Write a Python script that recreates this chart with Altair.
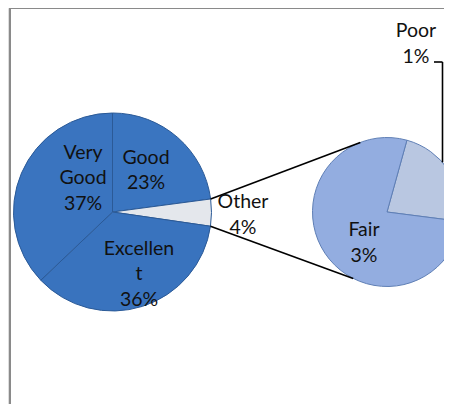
import math
import altair as alt
import pandas as pd

# ---- data ----
main_categories = ["Good", "Other", "Excellent", "Very Good"]
main_values = [22.9, 4.4, 35.6, 37.1]
sub_categories = ["Poor", "Fair"]
sub_values = [1.0, 3.4]

# ---- layout (chart pixel coordinates) ----
W, H = 436, 396
MAIN_C = (104.5, 204.0)
MAIN_R = 99
SUB_C = (379.0, 204.0)
SUB_R = 74.5
SUB_START_DEG = 15.5
FONT = "Lato"
FS = 19.5
LH = 25.5

main_colors = {"Good": "#3a75c0", "Other": "#e4e7ec", "Excellent": "#3973be", "Very Good": "#3a74bf"}
sub_colors = {"Poor": "#b9c7e1", "Fair": "#93ade0"}

main_df = pd.DataFrame({"cat": main_categories, "val": main_values, "ord": range(len(main_categories))})
sub_df = pd.DataFrame({"cat": sub_categories, "val": sub_values, "ord": range(len(sub_categories))})

tot_main = sum(main_values)
tot_sub = sum(sub_values)


def pt(c, r, deg):
    a = math.radians(deg)
    return c[0] + r * math.sin(a), c[1] - r * math.cos(a)


# angles of the "Other" slice in the main pie
i_other = main_categories.index("Other")
other_start = sum(main_values[:i_other]) / tot_main * 360
other_end = sum(main_values[: i_other + 1]) / tot_main * 360
p1 = pt(MAIN_C, MAIN_R, other_start)
p2 = pt(MAIN_C, MAIN_R, other_end)
q1 = pt(SUB_C, SUB_R, 339)
q2 = pt(SUB_C, SUB_R, 207)

# leader for "Poor": vertical line near the right edge meeting the pie's rim
lx = W - 1.5
ly = SUB_C[1] - math.sqrt(max(SUB_R ** 2 - (lx - SUB_C[0]) ** 2, 0))

lines_df = pd.DataFrame(
    [
        {"x": p1[0], "y": p1[1], "x2": q1[0], "y2": q1[1]},
        {"x": p2[0], "y": p2[1], "x2": q2[0], "y2": q2[1]},
        {"x": 426, "y": 54, "x2": lx, "y2": 54},
        {"x": lx, "y": 54, "x2": lx, "y2": ly},
    ]
)


def pct(v, t):
    return f"{round(v / t * 100)}%"


label_text = {
    "Very Good": ["Very", "Good", pct(main_values[3], tot_main)],
    "Good": ["Good", pct(main_values[0], tot_main)],
    "Other": ["Other", pct(main_values[1], tot_main)],
    "Excellent": ["Excellen", "t", pct(main_values[2], tot_main)],
    "Fair": ["Fair", pct(sub_values[1], tot_main)],
    "Poor": ["Poor", pct(sub_values[0], tot_main)],
}
label_pos = {
    "Very Good": (75, 170),
    "Good": (138, 162.5),
    "Other": (235, 207),
    "Excellent": (131, 266),
    "Fair": (356, 235),
    "Poor": (408, 36),
}
rows = []
for k, lines in label_text.items():
    x, yc = label_pos[k]
    n = len(lines)
    for i, t in enumerate(lines):
        rows.append({"x": x, "y": yc + (i - (n - 1) / 2) * LH, "t": t})
labels_df = pd.DataFrame(rows)

main_pie = (
    alt.Chart(main_df)
    .mark_arc(outerRadius=MAIN_R, stroke="#2b5a97", strokeWidth=1)
    .encode(
        theta=alt.Theta("val:Q", stack=True),
        order=alt.Order("ord:Q"),
        color=alt.Color(
            "cat:N",
            scale=alt.Scale(domain=list(main_colors), range=list(main_colors.values())),
            legend=None,
        ),
        x=alt.value(MAIN_C[0]),
        y=alt.value(MAIN_C[1]),
    )
)

start = math.radians(SUB_START_DEG)
sub_pie = (
    alt.Chart(sub_df)
    .mark_arc(outerRadius=SUB_R, stroke="#5f7fb5", strokeWidth=1)
    .encode(
        theta=alt.Theta("val:Q", stack=True, scale=alt.Scale(range=[start, start + 2 * math.pi])),
        order=alt.Order("ord:Q"),
        color=alt.Color(
            "cat:N",
            scale=alt.Scale(domain=list(sub_colors), range=list(sub_colors.values())),
            legend=None,
        ),
        x=alt.value(SUB_C[0]),
        y=alt.value(SUB_C[1]),
    )
)

lines = (
    alt.Chart(lines_df)
    .mark_rule(color="#000000", strokeWidth=1.6)
    .encode(
        x=alt.X("x:Q", scale=None),
        y=alt.Y("y:Q", scale=None),
        x2="x2:Q",
        y2="y2:Q",
    )
)

labels = (
    alt.Chart(labels_df)
    .mark_text(font=FONT, fontSize=FS, color="#111111", align="center", baseline="middle")
    .encode(x=alt.X("x:Q", scale=None), y=alt.Y("y:Q", scale=None), text="t:N")
)

border = alt.layer(
    alt.Chart(pd.DataFrame({"a": [0]})).mark_rule(color="#8a8a8a", strokeWidth=2).encode(
        x=alt.value(2), y=alt.value(0), y2=alt.value(H)
    ),
    alt.Chart(pd.DataFrame({"a": [0]})).mark_rule(color="#8a8a8a", strokeWidth=2).encode(
        x=alt.value(1), x2=alt.value(W), y=alt.value(0)
    ),
)

chart = (
    alt.layer(border, main_pie, sub_pie, lines, labels)
    .resolve_scale(color="independent", theta="independent")
    .properties(width=W, height=H, padding=0, autosize=alt.AutoSizeParams(type="none"))
    .configure_view(stroke=None)
    .configure(background="white")
)

chart.save("out.html", embed_options={"renderer": "svg", "actions": False})
